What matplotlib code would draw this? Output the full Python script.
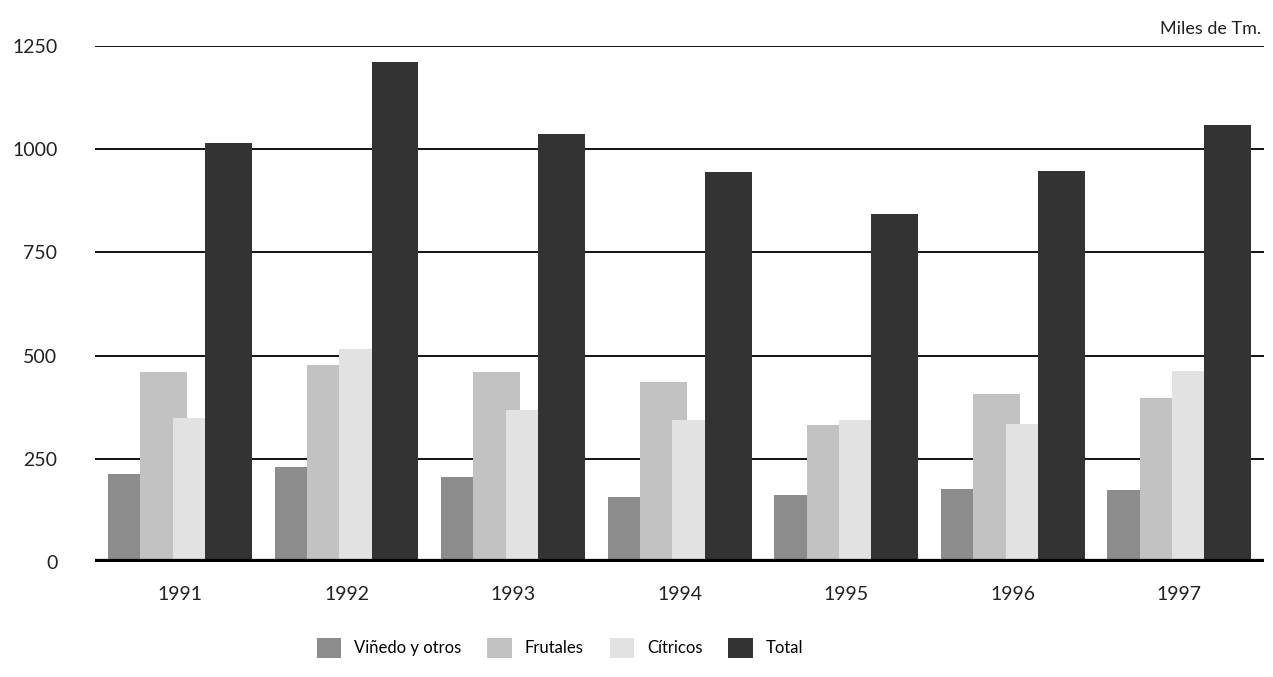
import matplotlib
matplotlib.use("Agg")
import matplotlib.pyplot as plt
from matplotlib.patches import Patch
import numpy as np

plt.rcParams['font.family'] = ['Lato', 'DejaVu Sans']

# Datos (miles de Tm.)
anios = ["1991", "1992", "1993", "1994", "1995", "1996", "1997"]
vinedo = [214, 229, 206, 158, 162, 177, 175]
frutales = [459, 478, 459, 437, 331, 407, 396]
citricos = [349, 516, 367, 344, 344, 334, 463]
total = [1014, 1212, 1036, 944, 842, 946, 1058]

series = [vinedo, frutales, citricos, total]
nombres = ["Viñedo y otros", "Frutales", "Cítricos", "Total"]
colores = ["#8c8c8c", "#c2c2c2", "#e2e2e2", "#333333"]
yticks = [0, 250, 500, 750, 1000, 1250]

fig = plt.figure(figsize=(12.73, 6.77), dpi=100)
ax = fig.add_axes([0.0746, 0.170, 0.918, 0.762])

x = np.arange(len(anios))
ancho = 0.282
offsets = [-0.291, -0.097, 0.097, 0.291]

# lineas de rejilla
for v in yticks[1:]:
    ax.axhline(v, color="black", lw=1.3, zorder=1)

for serie, off, col in zip(series, offsets, colores):
    ax.bar(x + off, serie, width=ancho, color=col, zorder=2)

# linea base gruesa
ax.axhline(0, color="black", lw=4.5, zorder=3)

ax.set_xlim(-0.51, 6.505)
ax.set_ylim(0, 1250)
for s in ax.spines.values():
    s.set_visible(False)

ax.set_yticks(yticks)
ax.set_yticklabels([str(v) for v in yticks], fontsize=14, color="#222222")
ax.set_xticks(x)
ax.set_xticklabels(anios, fontsize=14, color="#222222")
ax.tick_params(axis="y", length=0, pad=27)
ax.tick_params(axis="x", length=0, pad=17)

fig.text(0.991, 0.957, "Miles de Tm.", ha="right", va="center", fontsize=13, color="#222222")

handles = [Patch(facecolor=c, edgecolor="none") for c in colores]
fig.legend(handles, nombres, loc="center", bbox_to_anchor=(0.44, 0.043), ncol=4,
           frameon=False, fontsize=12, handlelength=1.45, handleheight=1.4,
           handletextpad=0.8, columnspacing=1.55)

fig.savefig("out.png", dpi=100)
